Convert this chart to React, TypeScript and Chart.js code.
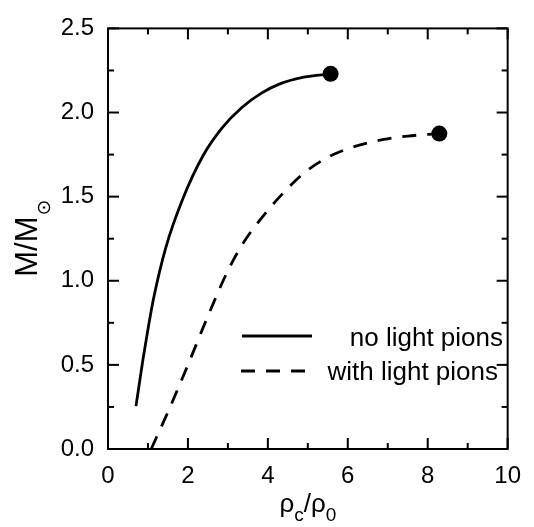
import React, { useEffect, useRef } from "react";
import { Chart, registerables } from "chart.js";
Chart.register(...registerables);

// Data (rho_c/rho_0 , M/Msun)
const noPionsX = [0.7, 0.88, 1.02, 1.14, 1.45, 1.86, 2.37, 2.86, 3.35, 3.84, 4.3, 4.9, 5.57];
const noPionsY = [0.255, 0.54, 0.74, 0.895, 1.2, 1.48, 1.74, 1.91, 2.03, 2.115, 2.17, 2.21, 2.23];
const pionsX = [1.08, 1.5, 2.0, 2.5, 3.0, 3.4, 3.8, 4.3, 4.9, 5.55, 6.2, 6.9, 7.5, 8.29];
const pionsY = [0.0, 0.22, 0.5, 0.79, 1.06, 1.23, 1.36, 1.5, 1.64, 1.74, 1.8, 1.84, 1.86, 1.875];
const seriesLabels = ["no light pions", "with light pions"];
const xMin = 0, xMax = 10, xStep = 2, xMinorStep = 1;
const yMin = 0, yMax = 2.5, yStep = 0.5, yMinorStep = 0.25;

const FONT = "'Liberation Sans', Arial, Helvetica, sans-serif";
const DASH = [14, 11];
const LINE_W = 2.8;

const toPts = (xs: number[], ys: number[]) => xs.map((x, i) => ({ x, y: ys[i] }));
const lastOnly = (n: number, r: number) => Array.from({ length: n }, (_, i) => (i === n - 1 ? r : 0));

const framePlugin = {
  id: "frame",
  afterDatasetsDraw(chart: any) {
    const { ctx, chartArea: a, scales } = chart;
    ctx.save();
    ctx.strokeStyle = "#000";
    ctx.lineWidth = 2;
    ctx.setLineDash([]);
    ctx.strokeRect(a.left, a.top, a.right - a.left, a.bottom - a.top);
    const seg = (x1: number, y1: number, x2: number, y2: number) => {
      ctx.beginPath();
      ctx.moveTo(x1, y1);
      ctx.lineTo(x2, y2);
      ctx.stroke();
    };
    const nx = Math.round((xMax - xMin) / xMinorStep);
    for (let i = 0; i <= nx; i++) {
      const v = xMin + i * xMinorStep;
      const px = scales.x.getPixelForValue(v);
      const major = Math.abs(v / xStep - Math.round(v / xStep)) < 1e-6;
      const len = major ? 11 : 6;
      seg(px, a.bottom, px, a.bottom - len);
      seg(px, a.top, px, a.top + len);
    }
    const ny = Math.round((yMax - yMin) / yMinorStep);
    for (let i = 0; i <= ny; i++) {
      const v = yMin + i * yMinorStep;
      const py = scales.y.getPixelForValue(v);
      const major = Math.abs(v / yStep - Math.round(v / yStep)) < 1e-6;
      const len = major ? 11 : 6;
      seg(a.left, py, a.left + len, py);
      seg(a.right, py, a.right - len, py);
    }
    ctx.restore();
  },
};

const legendPlugin = {
  id: "customLegend",
  afterDatasetsDraw(chart: any) {
    const { ctx } = chart;
    ctx.save();
    ctx.strokeStyle = "#000";
    ctx.fillStyle = "#000";
    ctx.lineWidth = LINE_W;
    ctx.font = `26px ${FONT}`;
    ctx.textBaseline = "alphabetic";
    // row 1
    ctx.setLineDash([]);
    ctx.beginPath();
    ctx.moveTo(242, 336);
    ctx.lineTo(312, 336);
    ctx.stroke();
    ctx.textAlign = "right";
    ctx.fillText(seriesLabels[0], 503, 346);
    // row 2
    ctx.setLineDash(DASH);
    ctx.beginPath();
    ctx.moveTo(241, 371);
    ctx.lineTo(306, 371);
    ctx.stroke();
    ctx.setLineDash([]);
    ctx.fillText(seriesLabels[1], 498, 380);
    ctx.restore();
  },
};

const titlesPlugin = {
  id: "titles",
  afterDraw(chart: any) {
    const { ctx, chartArea: a } = chart;
    ctx.save();
    ctx.fillStyle = "#000";
    ctx.textBaseline = "alphabetic";
    ctx.textAlign = "left";
    // X title: ρc/ρ0
    const big = `26px ${FONT}`;
    const small = `19px ${FONT}`;
    const parts = [
      { t: "ρ", f: big, dy: 0 },
      { t: "c", f: small, dy: 9 },
      { t: "/", f: big, dy: 0 },
      { t: "ρ", f: big, dy: 0 },
      { t: "0", f: small, dy: 9 },
    ];
    let total = 0;
    const widths = parts.map((p) => {
      ctx.font = p.f;
      const w = ctx.measureText(p.t).width;
      total += w;
      return w;
    });
    let x = (a.left + a.right) / 2 - total / 2;
    const base = 512;
    parts.forEach((p, i) => {
      ctx.font = p.f;
      ctx.fillText(p.t, x, base + p.dy);
      x += widths[i];
    });
    // Y title: M/M⊙
    ctx.translate(37, (a.top + a.bottom) / 2);
    ctx.rotate(-Math.PI / 2);
    const yBig = `31px ${FONT}`;
    const ySmall = `19px 'DejaVu Sans', ${FONT}`;
    ctx.font = yBig;
    const w1 = ctx.measureText("M/M").width;
    ctx.font = ySmall;
    const w2 = ctx.measureText("⊙").width;
    const start = -(w1 + w2) / 2;
    ctx.font = yBig;
    ctx.fillText("M/M", start, 0);
    ctx.font = ySmall;
    ctx.fillText("⊙", start + w1 + 1, 13);
    ctx.restore();
  },
};

export default function App() {
  const ref = useRef<HTMLCanvasElement | null>(null);
  useEffect(() => {
    if (!ref.current) return;
    const chart = new Chart(ref.current, {
      type: "scatter",
      data: {
        datasets: [
          {
            label: seriesLabels[0],
            data: toPts(noPionsX, noPionsY),
            showLine: true,
            borderColor: "#000",
            backgroundColor: "#000",
            borderWidth: LINE_W,
            pointRadius: lastOnly(noPionsX.length, 8),
            pointBorderWidth: 0,
            pointBackgroundColor: "#000",
            cubicInterpolationMode: "monotone",
          },
          {
            label: seriesLabels[1],
            data: toPts(pionsX, pionsY),
            showLine: true,
            borderColor: "#000",
            backgroundColor: "#000",
            borderWidth: LINE_W,
            borderDash: DASH,
            pointRadius: lastOnly(pionsX.length, 8),
            pointBorderWidth: 0,
            pointBackgroundColor: "#000",
            cubicInterpolationMode: "monotone",
          },
        ],
      },
      options: {
        animation: false,
        responsive: false,
        layout: { padding: { top: 18, right: 17, left: 0, bottom: 0 } },
        plugins: { legend: { display: false }, tooltip: { enabled: false } },
        scales: {
          x: {
            type: "linear",
            min: xMin,
            max: xMax,
            grid: { display: false, drawTicks: false },
            border: { display: false },
            ticks: { stepSize: xStep, color: "#000", font: { family: FONT, size: 24 }, padding: 13, maxRotation: 0 },
            afterFit: (s: any) => {
              s.height = 78;
            },
          },
          y: {
            type: "linear",
            min: yMin,
            max: yMax,
            grid: { display: false, drawTicks: false },
            border: { display: false },
            ticks: {
              stepSize: yStep,
              color: "#000",
              font: { family: FONT, size: 24 },
              padding: 14,
              callback: (v: any) => Number(v).toFixed(1),
            },
            afterFit: (s: any) => {
              s.width = 108;
            },
          },
        },
      } as any,
      plugins: [framePlugin, legendPlugin, titlesPlugin],
    });
    return () => chart.destroy();
  }, []);
  return (
    <canvas
      ref={ref}
      width={534}
      height={527}
      style={{ position: "absolute", left: 0, top: 0, display: "block", background: "#fff" }}
    />
  );
}
